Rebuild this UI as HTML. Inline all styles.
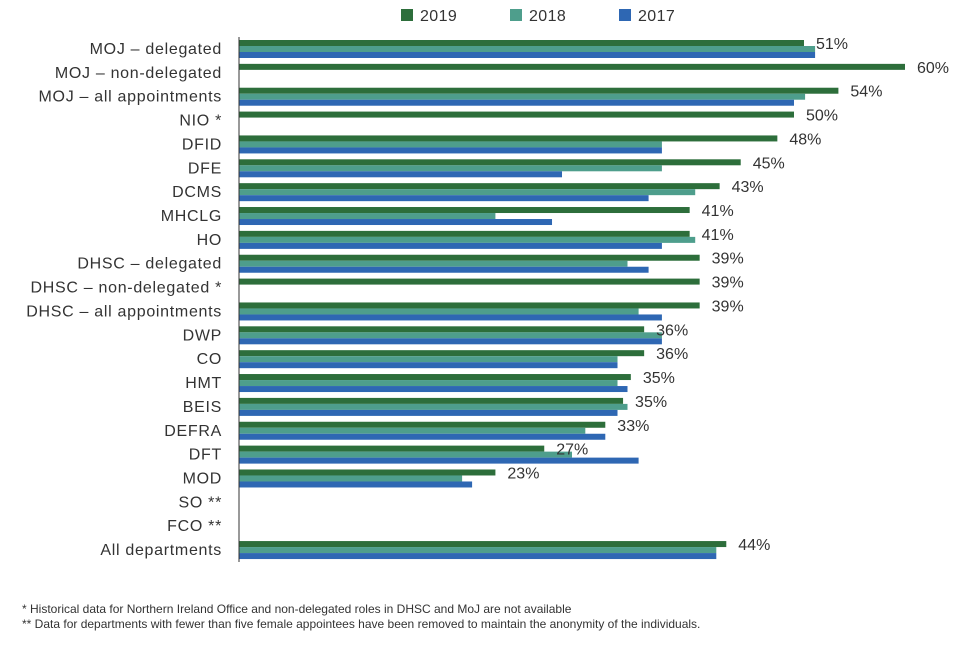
<!DOCTYPE html>
<html><head><meta charset="utf-8"><style>
body{margin:0;background:#fff;font-family:"Liberation Sans",sans-serif;}
svg text{font-family:"Liberation Sans",sans-serif;}
</style></head><body>
<svg id="chart" width="960" height="640" viewBox="0 0 960 640" xmlns="http://www.w3.org/2000/svg">
<g id="legend"></g>
<g id="bars"></g>
<line x1="239" y1="37" x2="239" y2="562" stroke="#333" stroke-width="1"/>
<text x="22" y="613" font-size="12" fill="#333">* Historical data for Northern Ireland Office and non-delegated roles in DHSC and MoJ are not available</text>
<text x="22" y="628" font-size="12" fill="#333">** Data for departments with fewer than five female appointees have been removed to maintain the anonymity of the individuals.</text>
</svg>
<script>
const categories=["MOJ – delegated","MOJ – non-delegated","MOJ – all appointments","NIO *","DFID","DFE","DCMS","MHCLG","HO","DHSC – delegated","DHSC – non-delegated *","DHSC – all appointments","DWP","CO","HMT","BEIS","DEFRA","DFT","MOD","SO **","FCO **","All departments"];
const series2019=[50.9,60,54,50,48.5,45.2,43.3,40.6,40.6,41.5,41.5,41.5,36.5,36.5,35.3,34.6,33,27.5,23.1,null,null,43.9];
const series2018=[51.9,null,51,null,38.1,38.1,41.1,23.1,41.1,35,null,36,38.1,34.1,34.1,35,31.2,30,20.1,null,null,43];
const series2017=[51.9,null,50,null,38.1,29.1,36.9,28.2,38.1,36.9,null,38.1,38.1,34.1,35,34.1,33,36,21,null,null,43];
const valueLabels=["51%","60%","54%","50%","48%","45%","43%","41%","41%","39%","39%","39%","36%","36%","35%","35%","33%","27%","23%","","","44%"];
const seriesNames=["2019","2018","2017"];
const colors=["#2d6e3b","#4e9e8c","#2e67b3"];
const NS="http://www.w3.org/2000/svg";
const x0=239,pxPer=11.1,rowTop=40,rowStep=23.86,barH=6;
function xs(v){return x0+v*pxPer;}
function ys(i){return rowTop+i*rowStep;}
const g=document.getElementById('bars');
const all=[series2019,series2018,series2017];
categories.forEach((c,i)=>{
  const t=document.createElementNS(NS,'text');
  
  
  t.setAttribute('x',222);t.setAttribute('y',ys(i)+14);
  t.setAttribute('text-anchor','end');t.setAttribute('font-size','16');t.setAttribute('letter-spacing','0.7');t.setAttribute('fill','#333');
  t.textContent=c;g.appendChild(t);
  all.forEach((s,k)=>{
    if(s[i]==null)return;
    const r=document.createElementNS(NS,'rect');
    
    
    r.setAttribute('x',x0);r.setAttribute('y',ys(i)+k*barH);
    r.setAttribute('width',xs(s[i])-x0);r.setAttribute('height',barH);
    r.setAttribute('fill',colors[k]);g.appendChild(r);
  });
  if(valueLabels[i]){
    const v=document.createElementNS(NS,'text');
    
    
    v.setAttribute('x',xs(series2019[i])+12);v.setAttribute('y',ys(i)+9);
    v.setAttribute('font-size','16');v.setAttribute('fill','#333');
    v.textContent=valueLabels[i];g.appendChild(v);
  }
});
const lg=document.getElementById('legend');
seriesNames.forEach((n,k)=>{
  const lx=401+k*109;
  const r=document.createElementNS(NS,'rect');
  
  
  r.setAttribute('x',lx);r.setAttribute('y',9);r.setAttribute('width',12);r.setAttribute('height',12);
  r.setAttribute('fill',colors[k]);lg.appendChild(r);
  const t=document.createElementNS(NS,'text');
  
  
  t.setAttribute('x',lx+19);t.setAttribute('y',21);t.setAttribute('font-size','16');t.setAttribute('letter-spacing','0.4');t.setAttribute('fill','#333');
  t.textContent=n;lg.appendChild(t);
});
</script>
</body></html>
